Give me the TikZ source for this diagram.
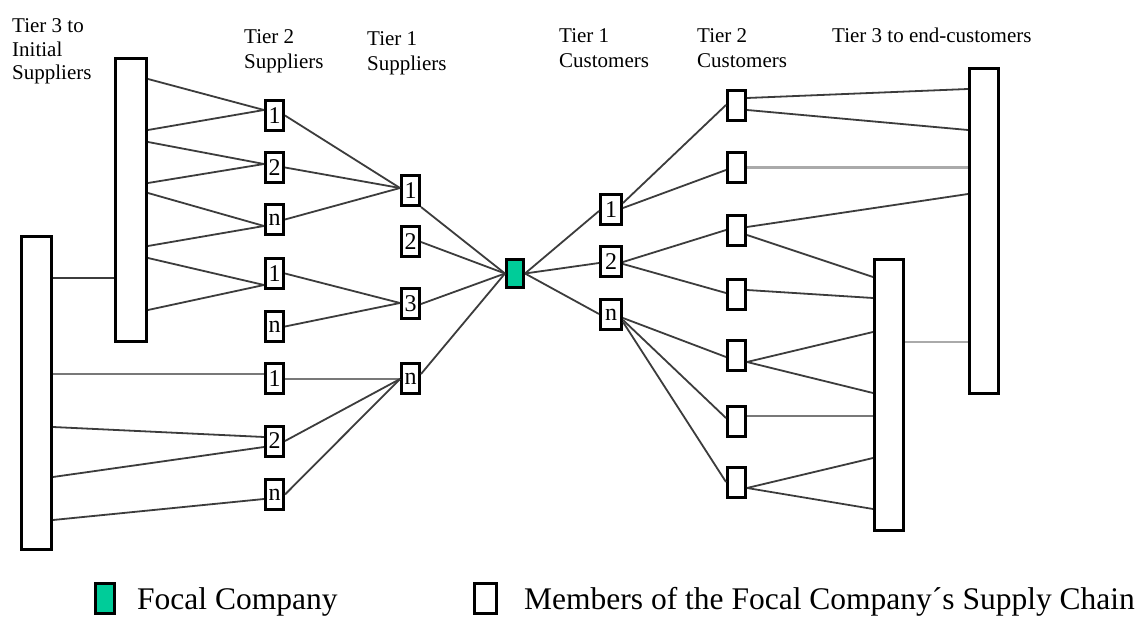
\documentclass[tikz,border=0pt]{standalone}
\usepackage{fontspec}
\setmainfont{Liberation Serif}
\definecolor{focal}{RGB}{0,204,153}
\definecolor{linkc}{RGB}{60,60,60}
\definecolor{linklight}{RGB}{170,170,170}
\definecolor{linkmid}{RGB}{120,120,120}

\begin{document}
\begin{tikzpicture}[x=1pt,y=-1pt,
  member/.style={draw=black, line width=3pt, fill=white, inner sep=0pt,
    minimum width=18pt, minimum height=30pt, font=\fontsize{24}{24}\selectfont},
  cust/.style={member, minimum width=21pt},
  tierbar/.style={draw=black, line width=3pt, fill=white, inner sep=0pt},
  link/.style={draw=linkc, line width=1.8pt},
  flat/.style={draw=linklight, line width=2.6pt},
  flatmid/.style={draw=linkmid, line width=2.2pt},
  lbl/.style={inner sep=0pt, anchor=base west, font=\fontsize{21}{24.5}\selectfont},
  legendtxt/.style={inner sep=0pt, anchor=base west, font=\fontsize{31.5}{34}\selectfont}
]
\fill[white] (0,0) rectangle (1143,617);
\useasboundingbox (0,0) rectangle (1143,617);

% column headings
\node[lbl, font=\fontsize{21}{23.5}\selectfont] (h3s) at (12,33)
  {\begin{tabular}[t]{@{}l@{}}Tier 3 to\\Initial\\Suppliers\end{tabular}};
\node[lbl] (h2s) at (244,44) {\begin{tabular}[t]{@{}l@{}}Tier 2\\Suppliers\end{tabular}};
\node[lbl] (h1s) at (367,46) {\begin{tabular}[t]{@{}l@{}}Tier 1\\Suppliers\end{tabular}};
\node[lbl] (h1c) at (559,43) {\begin{tabular}[t]{@{}l@{}}Tier 1\\Customers\end{tabular}};
\node[lbl] (h2c) at (697,43) {\begin{tabular}[t]{@{}l@{}}Tier 2\\Customers\end{tabular}};
\node[lbl] (h3c) at (832,43) {Tier 3 to end-customers};

% tier 3 supplier bars
\node[tierbar, minimum width=31pt, minimum height=283pt] (A) at (131,200) {};
\node[tierbar, minimum width=30pt, minimum height=313pt] (B) at (36.5,393) {};

% tier 2 suppliers
\node[member] (s2a) at (274.5,115.5) {1};
\node[member] (s2b) at (274.5,167.5) {2};
\node[member] (s2c) at (274.5,219.5) {n};
\node[member] (s2d) at (274.5,273.5) {1};
\node[member] (s2e) at (274.5,326.5) {n};
\node[member] (s2f) at (274.5,379) {1};
\node[member] (s2g) at (274.5,441) {2};
\node[member] (s2h) at (274.5,494.5) {n};

% tier 1 suppliers
\node[member] (s1a) at (410.5,190.5) {1};
\node[member] (s1b) at (410.5,242) {2};
\node[member] (s1c) at (410.5,304) {3};
\node[member] (s1d) at (410.5,379) {n};

% focal company
\node[member, fill=focal, minimum width=17pt, minimum height=28pt] (F) at (515,273.5) {};

% tier 1 customers
\node[cust] (c1a) at (611,210) {1};
\node[cust] (c1b) at (611,261.5) {2};
\node[cust] (c1c) at (611,315) {n};

% tier 2 customers
\node[member] (c2a) at (736.5,106) {};
\node[member] (c2b) at (736.5,167.5) {};
\node[member] (c2c) at (736.5,231) {};
\node[member] (c2d) at (736.5,294.5) {};
\node[member] (c2e) at (736.5,356) {};
\node[member] (c2f) at (736.5,421) {};
\node[member] (c2g) at (736.5,482.5) {};

% tier 3 customer bars
\node[tierbar, minimum width=29pt, minimum height=271pt] (R2) at (889,395) {};
\node[tierbar, minimum width=29pt, minimum height=325pt] (R1) at (984,231) {};

% supplier side links
\draw[link] (B.east |- 0,278) -- (A.west |- 0,278);
\draw[link] (A.east |- 0,79)  -- (s2a.west |- 0,110);
\draw[link] (A.east |- 0,130) -- (s2a.west |- 0,110);
\draw[link] (A.east |- 0,142) -- (s2b.west |- 0,164);
\draw[link] (A.east |- 0,183) -- (s2b.west |- 0,164);
\draw[link] (A.east |- 0,193) -- (s2c.west |- 0,226);
\draw[link] (A.east |- 0,246) -- (s2c.west |- 0,226);
\draw[link] (A.east |- 0,258) -- (s2d.west |- 0,285);
\draw[link] (A.east |- 0,310) -- (s2d.west |- 0,285);
\draw[flatmid] (B.east |- 0,374) -- (s2f.west |- 0,374);
\draw[link] (B.east |- 0,427) -- (s2g.west |- 0,437);
\draw[link] (B.east |- 0,477) -- (s2g.west |- 0,447);
\draw[link] (B.east |- 0,520) -- (s2h.west |- 0,499);

\draw[link] (s2a.east) -- (s1a.west |- 0,188);
\draw[link] (s2b.east) -- (s1a.west |- 0,188);
\draw[link] (s2c.east) -- (s1a.west |- 0,188);
\draw[link] (s2d.east) -- (s1c.west |- 0,303);
\draw[link] (s2e.east) -- (s1c.west |- 0,303);
\draw[flatmid] (s2f.east) -- (s1d.west);
\draw[link] (s2g.east) -- (s1d.west);
\draw[link] (s2h.east) -- (s1d.west);

\draw[link] (s1a.south east) -- (F.west);
\draw[link] (s1b.east) -- (F.west);
\draw[link] (s1c.east) -- (F.west);
\draw[link] (s1d.east |- 0,374) -- (F.west);

% customer side links
\draw[link] (F.east) -- (c1a.west |- 0,211);
\draw[link] (F.east) -- (c1b.west |- 0,263);
\draw[link] (F.east) -- (c1c.west |- 0,314);

\draw[link] (c1a.east |- 0,203) -- (c2a.west |- 0,105);
\draw[link] (c1a.east |- 0,208) -- (c2b.west |- 0,170);
\draw[link] (c1b.east |- 0,262) -- (c2c.west |- 0,230);
\draw[link] (c1b.east |- 0,264) -- (c2d.west |- 0,293);
\draw[link] (c1c.east |- 0,318) -- (c2e.west |- 0,357);
\draw[link] (c1c.east |- 0,320) -- (c2f.west |- 0,418);
\draw[link] (c1c.east |- 0,322) -- (c2g.west |- 0,482);

\draw[link] (c2a.east |- 0,98)  -- (R1.west |- 0,89);
\draw[link] (c2a.east |- 0,110) -- (R1.west |- 0,130);
\draw[flat] (c2b.east) -- (R1.west |- 0,167.5);
\draw[link] (c2c.east |- 0,227) -- (R1.west |- 0,194);
\draw[link] (c2c.east |- 0,235) -- (R2.west |- 0,277);
\draw[link] (c2d.east |- 0,290) -- (R2.west |- 0,298);
\draw[link] (c2e.east |- 0,362) -- (R2.west |- 0,332);
\draw[link] (c2e.east |- 0,362) -- (R2.west |- 0,393);
\draw[flatmid] (c2f.east |- 0,416) -- (R2.west |- 0,416);
\draw[link] (c2g.east |- 0,488) -- (R2.west |- 0,458);
\draw[link] (c2g.east |- 0,488) -- (R2.west |- 0,509);
\draw[flat] (R2.east |- 0,342) -- (R1.west |- 0,342);

% legend
\node[member, fill=focal, minimum width=19pt, minimum height=30pt] (kf) at (105,598) {};
\node[legendtxt] (kft) at (137,609.5) {Focal Company};
\node[member, minimum width=22pt, minimum height=30pt] (km) at (485.5,598) {};
\node[legendtxt] (kmt) at (524,609.5) {Members of the Focal Company´s Supply Chain};
\end{tikzpicture}
\end{document}
